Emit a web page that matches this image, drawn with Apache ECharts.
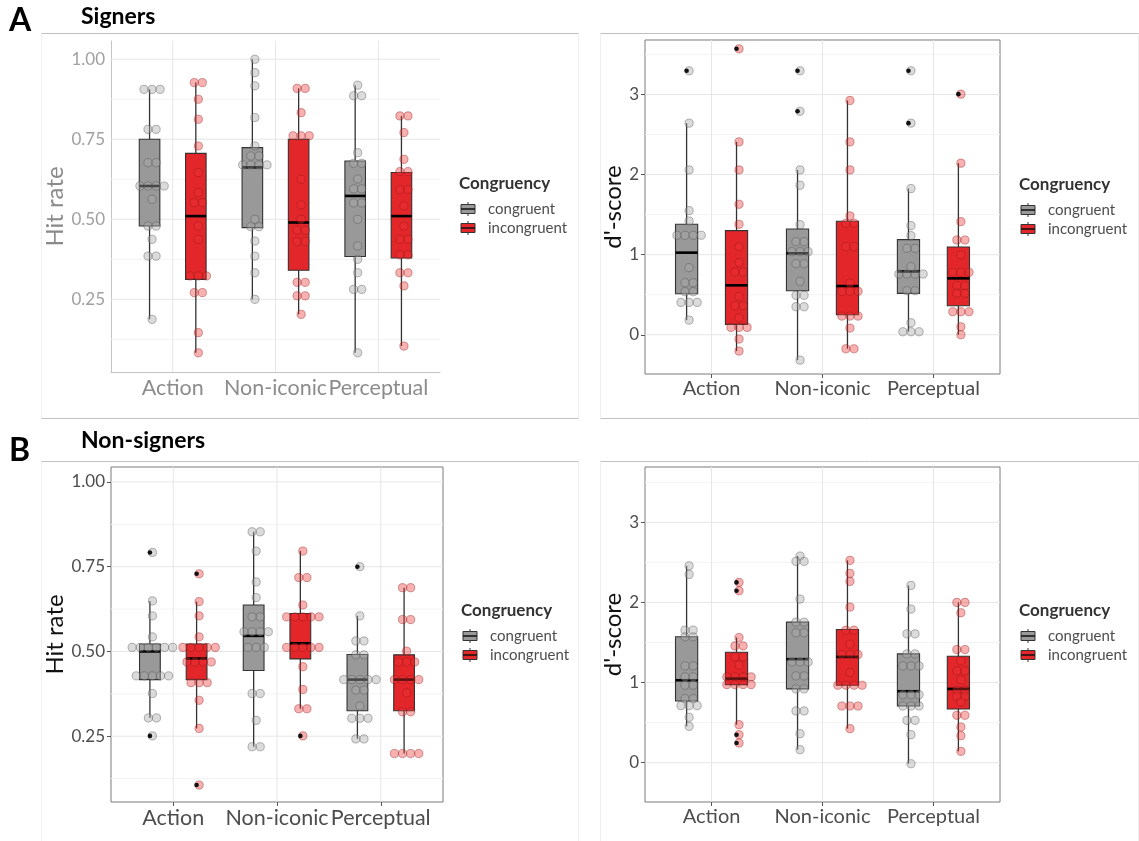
<!DOCTYPE html>
<html>
<head>
<meta charset="utf-8">
<script src="https://cdn.jsdelivr.net/npm/echarts@6/dist/echarts.min.js"></script>
<style>
html, body { margin: 0; padding: 0; background: #fff; }
#chart { width: 1139px; height: 841px; }
</style>
</head>
<body>
<div id="chart"></div>
<script>
// categories and tick labels
const categories = ['Action', 'Non-iconic', 'Perceptual'];
const hitTicks = [0.25, 0.5, 0.75, 1.0];
const hitMinorTicks = [0.125, 0.375, 0.625, 0.875];
const dprimeTicks = [0, 1, 2, 3];
const dprimeMinorTicks = [0.5, 1.5, 2.5, 3.5];

// A: signers, hit rate (one list per category)
const signersHitCongruent = [
  [0.906, 0.906, 0.906, 0.781, 0.781, 0.677, 0.677, 0.604, 0.604, 0.604, 0.604, 0.5625, 0.479, 0.479, 0.4375, 0.385, 0.385, 0.1875],
  [1.0, 0.958, 0.917, 0.818, 0.729, 0.698, 0.698, 0.670, 0.670, 0.670, 0.670, 0.5, 0.477, 0.477, 0.432, 0.385, 0.333, 0.25],
  [0.919, 0.886, 0.886, 0.708, 0.675, 0.675, 0.626, 0.595, 0.595, 0.551, 0.551, 0.5, 0.4167, 0.375, 0.333, 0.281, 0.281, 0.083]
];
const signersHitIncongruent = [
  [0.927, 0.927, 0.875, 0.8125, 0.729, 0.646, 0.583, 0.552, 0.552, 0.479, 0.4375, 0.323, 0.323, 0.323, 0.271, 0.271, 0.146, 0.083],
  [0.909, 0.909, 0.833, 0.761, 0.761, 0.761, 0.625, 0.545, 0.5, 0.466, 0.466, 0.431, 0.431, 0.303, 0.303, 0.261, 0.261, 0.203],
  [0.823, 0.823, 0.771, 0.6875, 0.649, 0.649, 0.593, 0.593, 0.542, 0.479, 0.4375, 0.4375, 0.389, 0.389, 0.333, 0.333, 0.292, 0.104]
];
// box: [lower whisker, Q1, median, Q3, upper whisker]
const signersHitCongruentBox = [[0.1875, 0.479, 0.604, 0.75, 0.906], [0.25, 0.474, 0.6625, 0.724, 1.0], [0.083, 0.384, 0.573, 0.682, 0.919]];
const signersHitIncongruentBox = [[0.083, 0.3125, 0.51, 0.706, 0.927], [0.203, 0.341, 0.49, 0.75, 0.909], [0.104, 0.379, 0.51, 0.646, 0.823]];

// A: signers, d'-score
const signersDCongruent = [
  [3.296, 2.642, 2.058, 1.55, 1.42, 1.242, 1.242, 1.242, 1.242, 0.8375, 0.65, 0.65, 0.5375, 0.5375, 0.404, 0.404, 0.404, 0.183],
  [3.296, 2.79, 2.058, 1.867, 1.375, 1.1625, 1.1625, 1.0375, 1.0375, 1.0375, 0.8875, 0.8875, 0.667, 0.492, 0.492, 0.35, 0.35, -0.317],
  [3.296, 2.642, 1.825, 1.3625, 1.2375, 1.079, 1.079, 0.85, 0.758, 0.758, 0.758, 0.758, 0.55, 0.55, 0.15, 0.0375, 0.0375, 0.0375]
];
const signersDIncongruent = [
  [3.57, 2.408, 2.058, 1.629, 1.379, 1.1, 0.9, 0.783, 0.783, 0.479, 0.3625, 0.3625, 0.2125, 0.092, 0.092, 0.092, -0.054, -0.204],
  [2.925, 2.408, 2.058, 1.483, 1.392, 1.392, 1.1, 1.1, 0.646, 0.542, 0.542, 0.542, 0.233, 0.233, 0.233, 0.083, -0.175, -0.175],
  [3.004, 2.142, 1.4125, 1.183, 1.183, 0.996, 0.779, 0.779, 0.779, 0.6125, 0.6125, 0.517, 0.517, 0.2875, 0.2875, 0.2875, 0.1, 0.0]
];
const signersDCongruentBox = [[0.183, 0.5125, 1.025, 1.379, 2.642], [-0.317, 0.55, 1.017, 1.32, 2.058], [0.0375, 0.517, 0.79, 1.1875, 1.825]];
const signersDIncongruentBox = [[-0.204, 0.129, 0.617, 1.3, 2.408], [-0.175, 0.25, 0.608, 1.417, 2.925], [0.0, 0.3625, 0.704, 1.096, 2.142]];

// B: non-signers, hit rate
const nonSignersHitCongruent = [
  [0.792, 0.649, 0.605, 0.543, 0.512, 0.512, 0.512, 0.512, 0.512, 0.512, 0.428, 0.428, 0.428, 0.428, 0.428, 0.376, 0.304, 0.304, 0.251],
  [0.853, 0.853, 0.796, 0.705, 0.659, 0.602, 0.602, 0.558, 0.558, 0.558, 0.558, 0.512, 0.512, 0.512, 0.376, 0.376, 0.297, 0.219, 0.219],
  [0.75, 0.605, 0.531, 0.531, 0.49, 0.49, 0.417, 0.417, 0.417, 0.417, 0.417, 0.386, 0.386, 0.339, 0.303, 0.303, 0.303, 0.242, 0.242]
];
const nonSignersHitIncongruent = [
  [0.729, 0.647, 0.605, 0.543, 0.512, 0.512, 0.512, 0.512, 0.512, 0.469, 0.469, 0.469, 0.469, 0.408, 0.408, 0.408, 0.356, 0.273, 0.106],
  [0.796, 0.718, 0.718, 0.637, 0.602, 0.602, 0.602, 0.602, 0.602, 0.512, 0.512, 0.512, 0.512, 0.512, 0.455, 0.388, 0.331, 0.331, 0.251],
  [0.688, 0.688, 0.594, 0.594, 0.501, 0.469, 0.469, 0.469, 0.417, 0.417, 0.417, 0.417, 0.378, 0.322, 0.322, 0.199, 0.199, 0.199, 0.199]
];
const nonSignersHitCongruentBox = [[0.304, 0.417, 0.5, 0.522, 0.649], [0.219, 0.444, 0.546, 0.637, 0.853], [0.242, 0.325, 0.417, 0.491, 0.605]];
const nonSignersHitIncongruentBox = [[0.273, 0.417, 0.479, 0.522, 0.647], [0.331, 0.478, 0.524, 0.612, 0.796], [0.199, 0.325, 0.417, 0.49, 0.688]];

// B: non-signers, d'-score
const nonSignersDCongruent = [
  [2.458, 2.35, 1.654, 1.654, 1.571, 1.571, 1.208, 1.208, 1.071, 1.071, 0.967, 0.967, 0.8, 0.8, 0.7125, 0.7125, 0.7125, 0.567, 0.454],
  [2.579, 2.5125, 2.5125, 2.042, 1.754, 1.754, 1.621, 1.621, 1.258, 1.258, 1.258, 1.083, 1.083, 0.921, 0.921, 0.646, 0.646, 0.3625, 0.1625],
  [2.2125, 1.917, 1.608, 1.608, 1.358, 1.358, 1.208, 1.208, 1.208, 0.85, 0.85, 0.85, 0.708, 0.708, 0.708, 0.529, 0.529, 0.35, -0.0125]
];
const nonSignersDIncongruent = [
  [2.25, 2.146, 1.5625, 1.458, 1.458, 1.32, 1.32, 1.217, 1.071, 1.071, 1.071, 1.071, 0.975, 0.975, 0.975, 0.975, 0.475, 0.35, 0.246],
  [2.525, 2.3625, 2.2625, 1.942, 1.654, 1.654, 1.479, 1.35, 1.35, 1.35, 1.125, 0.967, 0.967, 0.967, 0.967, 0.708, 0.708, 0.708, 0.425],
  [2.0, 2.0, 1.871, 1.4125, 1.4125, 1.27, 1.146, 1.146, 1.033, 0.904, 0.904, 0.829, 0.829, 0.758, 0.592, 0.592, 0.446, 0.3375, 0.142]
];
const nonSignersDCongruentBox = [[0.454, 0.771, 1.029, 1.571, 2.458], [0.1625, 0.921, 1.292, 1.754, 2.579], [-0.0125, 0.708, 0.892, 1.358, 2.2125]];
const nonSignersDIncongruentBox = [[0.475, 0.975, 1.05, 1.379, 1.5625], [0.425, 0.967, 1.321, 1.6625, 2.525], [0.142, 0.671, 0.921, 1.329, 2.0]];

const FONT = 'Lato, "Open Sans", sans-serif';
const GRAY = '#999999', RED = '#E3262A';
const DODGE = 0.225, BOX_W = 0.2, DOT_R = 4.1, DOT_STEP = 8.1, DOT_SHIFT = 2.5;

const panels = [
  { grid: { left: 111, top: 41, width: 329, height: 331 }, ymin: 0.023, ymax: 1.057, hit: true, faded: true, framed: false,
    cong: signersHitCongruent, incong: signersHitIncongruent, congBox: signersHitCongruentBox, incongBox: signersHitIncongruentBox,
    nameGap: 42, xFont: 21.5, legend: [459, 184] },
  { grid: { left: 645, top: 40, width: 355, height: 334 }, ymin: -0.49, ymax: 3.68, hit: false, framed: true,
    cong: signersDCongruent, incong: signersDIncongruent, congBox: signersDCongruentBox, incongBox: signersDIncongruentBox,
    nameGap: 20, xFont: 20, legend: [1019, 185] },
  { grid: { left: 111, top: 467, width: 332, height: 335 }, ymin: 0.056, ymax: 1.044, hit: true, framed: true,
    cong: nonSignersHitCongruent, incong: nonSignersHitIncongruent, congBox: nonSignersHitCongruentBox, incongBox: nonSignersHitIncongruentBox,
    nameGap: 42, xFont: 21.5, legend: [461, 611] },
  { grid: { left: 645, top: 467, width: 355, height: 335 }, ymin: -0.49, ymax: 3.69, hit: false, framed: true,
    cong: nonSignersDCongruent, incong: nonSignersDIncongruent, congBox: nonSignersDCongruentBox, incongBox: nonSignersDIncongruentBox,
    nameGap: 20, xFont: 20, legend: [1019, 611] }
];

// dotplot-like stacking: equal values sit side by side
function stackDots(lists, boxes, eps) {
  const out = [];
  lists.forEach(function (vals, ci) {
    const counts = {}, seen = {};
    vals.forEach(function (v) { const k = v.toFixed(4); counts[k] = (counts[k] || 0) + 1; });
    vals.forEach(function (v) {
      const k = v.toFixed(4);
      seen[k] = seen[k] === undefined ? 0 : seen[k] + 1;
      const b = boxes[ci];
      const out1 = (v < b[0] - eps || v > b[4] + eps) ? 1 : 0;
      out.push([ci + 1, v, seen[k], counts[k], out1]);
    });
  });
  return out;
}

function boxRender(dodge, fill) {
  return function (params, api) {
    const x = api.value(0) + dodge;
    const lo = api.coord([x, api.value(1)]), q1 = api.coord([x, api.value(2)]);
    const md = api.coord([x, api.value(3)]), q3 = api.coord([x, api.value(4)]);
    const hi = api.coord([x, api.value(5)]);
    const w = api.size([BOX_W, 0])[0];
    return { type: 'group', children: [
      { type: 'line', shape: { x1: lo[0], y1: lo[1], x2: q1[0], y2: q1[1] }, style: { stroke: '#333', lineWidth: 1.3 } },
      { type: 'line', shape: { x1: q3[0], y1: q3[1], x2: hi[0], y2: hi[1] }, style: { stroke: '#333', lineWidth: 1.3 } },
      { type: 'rect', shape: { x: q3[0] - w / 2, y: q3[1], width: w, height: q1[1] - q3[1] }, style: { fill: fill, stroke: '#333', lineWidth: 1.1 } },
      { type: 'line', shape: { x1: md[0] - w / 2, y1: md[1], x2: md[0] + w / 2, y2: md[1] }, style: { stroke: '#000', lineWidth: 2.6 } }
    ] };
  };
}

function dotRender(dodge, fill, stroke) {
  return function (params, api) {
    const c = api.coord([api.value(0) + dodge, api.value(1)]);
    const cx = c[0] + DOT_SHIFT + (api.value(2) - (api.value(3) - 1) / 2) * DOT_STEP;
    const kids = [{ type: 'circle', shape: { cx: cx, cy: c[1], r: DOT_R }, style: { fill: fill, stroke: stroke, lineWidth: 1 } }];
    if (api.value(4) === 1) {
      kids.push({ type: 'circle', shape: { cx: c[0], cy: c[1], r: 2.3 }, style: { fill: '#111' } });
    }
    return { type: 'group', children: kids };
  };
}

function gridRender(params, api) {
  const cs = params.coordSys;
  const horiz = api.value(0) === 0;
  const p = api.coord(horiz ? [1, api.value(1)] : [api.value(1), 1]);
  const col = api.value(2) === 1 ? '#e6e6e6' : '#f3f3f3';
  const shape = horiz ? { x1: cs.x, y1: p[1], x2: cs.x + cs.width, y2: p[1] }
                      : { x1: p[0], y1: cs.y, x2: p[0], y2: cs.y + cs.height };
  return { type: 'line', shape: shape, style: { stroke: col, lineWidth: 1 } };
}

const option = { animation: false, grid: [], xAxis: [], yAxis: [], series: [], graphic: [] };

panels.forEach(function (p, i) {
  const ticks = p.hit ? hitTicks : dprimeTicks;
  const minor = (p.hit ? hitMinorTicks : dprimeMinorTicks).filter(function (v) { return v > p.ymin && v < p.ymax; });
  const tickCol = p.faded ? '#a0a0a0' : '#4d4d4d';
  const xCol = p.faded ? '#8c8c8c' : '#4d4d4d';
  const nameCol = p.faded ? '#8a8a8a' : '#111';
  option.grid.push(Object.assign({ show: p.framed, borderColor: '#7a7a7a', borderWidth: 1, backgroundColor: 'transparent' }, p.grid));
  option.xAxis.push({
    gridIndex: i, type: 'value', min: 0.4, max: 3.6,
    axisLine: { show: !p.framed, onZero: false, lineStyle: { color: '#c4c4c4', width: 1 } },
    axisTick: { show: !p.faded, customValues: [1, 2, 3], length: 4, lineStyle: { color: '#555' } },
    axisLabel: { customValues: [1, 2, 3], formatter: function (v) { return categories[Math.round(v) - 1]; },
      color: xCol, fontSize: p.xFont, fontFamily: FONT, margin: 5 },
    splitLine: { show: false }
  });
  option.yAxis.push({
    gridIndex: i, type: 'value', min: p.ymin, max: p.ymax,
    name: p.hit ? 'Hit rate' : "d'-score", nameLocation: 'middle', nameGap: p.nameGap,
    nameTextStyle: { color: nameCol, fontSize: 24, fontFamily: FONT },
    axisLine: { show: !p.framed, onZero: false, lineStyle: { color: '#c4c4c4', width: 1 } },
    axisTick: { show: !p.faded, customValues: ticks, length: 4, lineStyle: { color: '#555' } },
    axisLabel: { customValues: ticks, formatter: function (v) { return p.hit ? v.toFixed(2) : String(v); },
      color: tickCol, fontSize: 17, fontFamily: FONT, margin: 6 },
    splitLine: { show: false }
  });

  const gridData = [];
  ticks.forEach(function (v) { gridData.push([0, v, 1]); });
  minor.forEach(function (v) { gridData.push([0, v, 0]); });
  categories.forEach(function (c, ci) { gridData.push([1, ci + 1, 1]); });
  option.series.push({ type: 'custom', xAxisIndex: i, yAxisIndex: i, silent: true, z: 1,
    renderItem: gridRender, data: gridData, encode: { x: -1, y: -1 } });

  const eps = p.hit ? 0.005 : 0.02;
  [[p.congBox, -DODGE, GRAY], [p.incongBox, DODGE, RED]].forEach(function (s) {
    option.series.push({ type: 'custom', xAxisIndex: i, yAxisIndex: i, z: 2, silent: true,
      renderItem: boxRender(s[1], s[2]),
      data: s[0].map(function (b, ci) { return [ci + 1].concat(b); }),
      encode: { x: 0, y: [1, 2, 3, 4, 5] } });
  });
  option.series.push({ type: 'custom', xAxisIndex: i, yAxisIndex: i, z: 3, silent: true,
    renderItem: dotRender(-DODGE, 'rgba(170,170,170,0.42)', 'rgba(80,80,80,0.42)'),
    data: stackDots(p.cong, p.congBox, eps), encode: { x: 0, y: 1 } });
  option.series.push({ type: 'custom', xAxisIndex: i, yAxisIndex: i, z: 3, silent: true,
    renderItem: dotRender(DODGE, 'rgba(236,50,50,0.38)', 'rgba(150,25,25,0.42)'),
    data: stackDots(p.incong, p.incongBox, eps), encode: { x: 0, y: 1 } });

  // legend
  const lx = p.legend[0], ly = p.legend[1];
  option.graphic.push({ type: 'text', x: lx, y: ly, style: { text: 'Congruency', font: 'bold 17px ' + FONT, fill: '#333', verticalAlign: 'middle' } });
  [['congruent', GRAY, 25], ['incongruent', RED, 44]].forEach(function (it) {
    const yy = ly + it[2];
    option.graphic.push({ type: 'line', shape: { x1: lx + 9, y1: yy - 7, x2: lx + 9, y2: yy + 7 }, style: { stroke: '#333', lineWidth: 1 } });
    option.graphic.push({ type: 'rect', shape: { x: lx + 2, y: yy - 4.5, width: 14, height: 9 }, style: { fill: it[1], stroke: '#333', lineWidth: 1 } });
    option.graphic.push({ type: 'line', shape: { x1: lx + 2, y1: yy, x2: lx + 16, y2: yy }, style: { stroke: '#111', lineWidth: 1.5 } });
    option.graphic.push({ type: 'text', x: lx + 29, y: yy, style: { text: it[0], font: '15px ' + FONT, fill: '#4d4d4d', verticalAlign: 'middle' } });
  });
});

// figure frames and headers
[[41, 33.5, 579, 418.5], [600, 33.5, 1139, 418.5], [41, 461.5, 579, 845], [600, 461.5, 1139, 845]].forEach(function (f) {
  option.graphic.push({ type: 'line', shape: { x1: f[0], y1: f[1], x2: f[2], y2: f[1] }, style: { stroke: '#c0c0c0', lineWidth: 1 } });
  option.graphic.push({ type: 'line', shape: { x1: f[0], y1: f[3], x2: f[2], y2: f[3] }, style: { stroke: '#c0c0c0', lineWidth: 1 } });
  option.graphic.push({ type: 'line', shape: { x1: f[0] + 0.5, y1: f[1], x2: f[0] + 0.5, y2: f[3] }, style: { stroke: '#efefef', lineWidth: 1 } });
  option.graphic.push({ type: 'line', shape: { x1: f[2] - 0.5, y1: f[1], x2: f[2] - 0.5, y2: f[3] }, style: { stroke: '#efefef', lineWidth: 1 } });
});
option.graphic.push({ type: 'text', x: 9, y: 5, style: { text: 'A', font: 'bold 32px ' + FONT, fill: '#000' } });
option.graphic.push({ type: 'text', x: 81, y: 5, style: { text: 'Signers', font: 'bold 23px ' + FONT, fill: '#000' } });
option.graphic.push({ type: 'text', x: 9, y: 435, style: { text: 'B', font: 'bold 32px ' + FONT, fill: '#000' } });
option.graphic.push({ type: 'text', x: 81, y: 429, style: { text: 'Non-signers', font: 'bold 23px ' + FONT, fill: '#000' } });

const chart = echarts.init(document.getElementById('chart'));
chart.setOption(option);
window.addEventListener('resize', function () { chart.resize(); });
</script>
</body>
</html>
